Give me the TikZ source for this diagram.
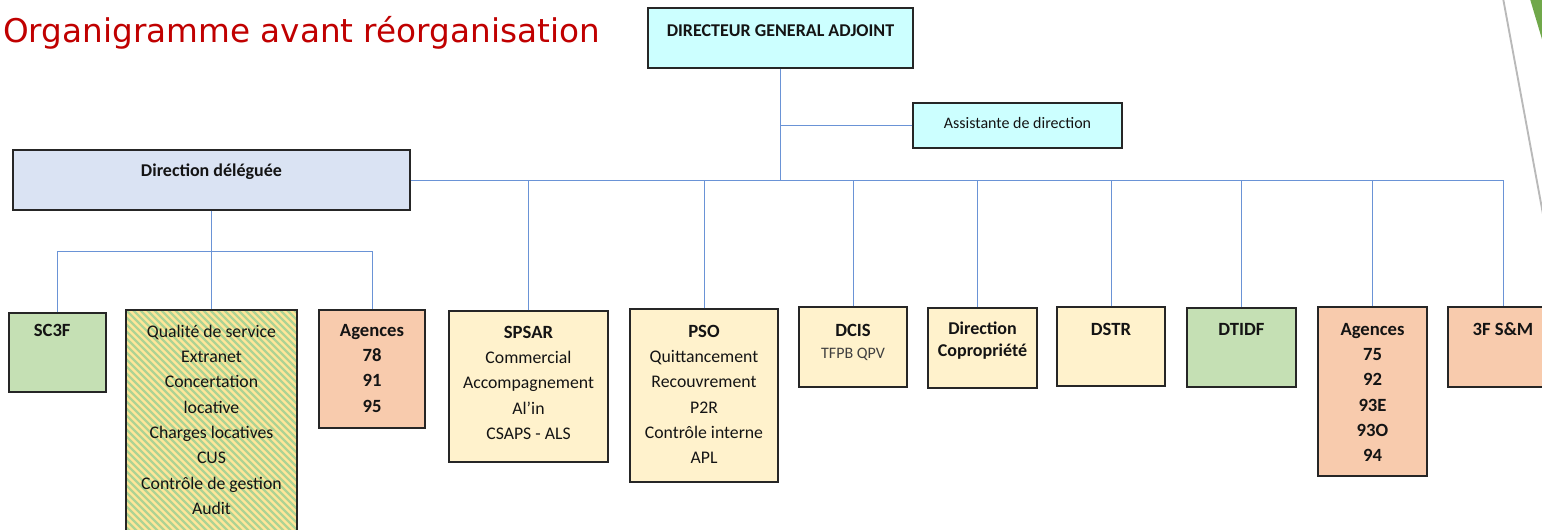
\documentclass[tikz,border=0pt]{standalone}
\usepackage{fontspec}
\setmainfont{Carlito}
\newfontfamily\titlefont{DejaVu Sans}
\usetikzlibrary{fit,calc}
\definecolor{bordc}{HTML}{262626}
\definecolor{linec}{HTML}{6A93D6}
\definecolor{txtc}{HTML}{141414}
\definecolor{grayt}{HTML}{404040}
\definecolor{titlec}{HTML}{C00000}
\definecolor{cyanF}{HTML}{CCFFFF}
\definecolor{blueF}{HTML}{DAE3F3}
\definecolor{greenF}{HTML}{C5E0B4}
\definecolor{salmonF}{HTML}{F8CBAD}
\definecolor{creamF}{HTML}{FFF2CC}
\definecolor{stripeY}{HTML}{FFE699}
\definecolor{stripeG}{HTML}{ADD394}
\definecolor{decoG}{HTML}{70A84A}
\newcommand{\orgunit}[9]{%
  \node[box,#2,fit={(#4,#5) (#6,#7)}] (#1) {};
  \node[txt,#3] (#1-t) at ({(#4+#6)/2},{#8-14.67}) {\rule{0pt}{11pt}#9};
}
\begin{document}
\begin{tikzpicture}[x=0.75pt,y=-0.75pt,
  box/.style={draw=bordc, line width=0.85pt, inner sep=0pt},
  txt/.style={inner sep=0pt, anchor=north, align=center, font=\fontsize{13.3}{19}\selectfont, text=txtc},
  bt/.style={font=\fontsize{14}{19}\selectfont\bfseries},
  conn/.style={draw=linec, line width=0.7pt},
  hatchfill/.style={fill=stripeY, path picture={
    \foreach \k in {-36,...,26}{\draw[stripeG, line width=1.8pt] ($(path picture bounding box.north west)+(\k*7,0)$) -- ++(260,260);}
  }},
]
\clip (0,0) rectangle (1542,529);
\fill[white] (0,0) rectangle (1542,529);
% decoration
\fill[decoG] (1530,-1) -- (1550,-1) -- (1550,66) -- cycle;
\draw[gray!55, line width=1.4pt] (1503,-2) -- (1545,225);
% title
\node[anchor=base west, inner sep=0pt, font=\titlefont\fontsize{24.5}{28}\selectfont, text=titlec] (title) at (3,42) {Organigramme avant réorganisation};
% boxes
\orgunit{dga}{fill=cyanF}{font=\fontsize{13.5}{19}\selectfont\bfseries}{648}{8}{913}{68}{36}{DIRECTEUR GENERAL ADJOINT}
\orgunit{asst}{fill=cyanF}{font=\fontsize{12}{16}\selectfont}{913}{103}{1122}{148}{128}{Assistante de direction}
\orgunit{dd}{fill=blueF}{font=\fontsize{13.5}{19}\selectfont\bfseries}{13}{150}{410}{210}{176}{Direction déléguée}
\orgunit{sc3f}{fill=greenF}{bt, xshift=-4pt}{9}{313}{106}{392}{336}{SC3F}
\orgunit{hatch}{hatchfill}{}{126}{310}{297}{540}{337}{Qualité de service\\Extranet\\Concertation\\locative\\Charges locatives\\CUS\\Contrôle de gestion\\Audit}
\orgunit{ag1}{fill=salmonF}{bt}{319}{310}{425}{428}{336}{Agences\\78\\91\\95}
\orgunit{spsar}{fill=creamF}{}{449}{311}{608}{462}{338}{{\fontsize{14}{19}\selectfont\bfseries SPSAR}\\Commercial\\Accompagnement\\Al’in\\CSAPS - ALS}
\orgunit{pso}{fill=creamF}{}{630}{309}{778}{482}{337}{{\fontsize{14}{19}\selectfont\bfseries PSO}\\Quittancement\\Recouvrement\\P2R\\Contrôle interne\\APL}
\orgunit{dcis}{fill=creamF}{font=\fontsize{14}{16.5}\selectfont}{799}{307}{907}{387}{336}{\textbf{DCIS}\\{\fontsize{12}{16.5}\selectfont\color{grayt}TFPB QPV}}
\orgunit{copro}{fill=creamF}{font=\fontsize{13.5}{16.5}\selectfont\bfseries}{928}{308}{1037}{388}{334}{Direction\\Copropriété}
\orgunit{dstr}{fill=creamF}{bt}{1057}{307}{1165}{386}{335}{DSTR}
\orgunit{dtidf}{fill=greenF}{bt}{1187}{308}{1296}{387}{335}{DTIDF}
\orgunit{ag2}{fill=salmonF}{bt}{1318}{307}{1427}{476}{335}{Agences\\75\\92\\93E\\93O\\94}
\orgunit{sfsm}{fill=salmonF}{bt}{1448}{307}{1558}{387}{335}{3F S\&M}
% connectors
\coordinate (busy) at (0,180);
\coordinate (bry) at (0,251);
\draw[conn] (dga.south) -- (dga.south |- busy);
\draw[conn] (asst.west) -- (asst.west -| dga.south);
\draw[conn] (dd.east) -- (dd.east -| sfsm.north) -- (sfsm.north);
\foreach \n in {spsar,pso,dcis,dstr,dtidf,ag2}{\draw[conn] (\n.north) -- (\n.north |- busy);}
\draw[conn] ([xshift=-3.75pt]copro.north) -- ([xshift=-3.75pt]copro.north |- busy);
\draw[conn] (dd.south) -- (hatch.north);
\draw[conn] (sc3f.north) -- (sc3f.north |- bry) -- (ag1.north |- bry) -- (ag1.north);
\end{tikzpicture}
\end{document}
